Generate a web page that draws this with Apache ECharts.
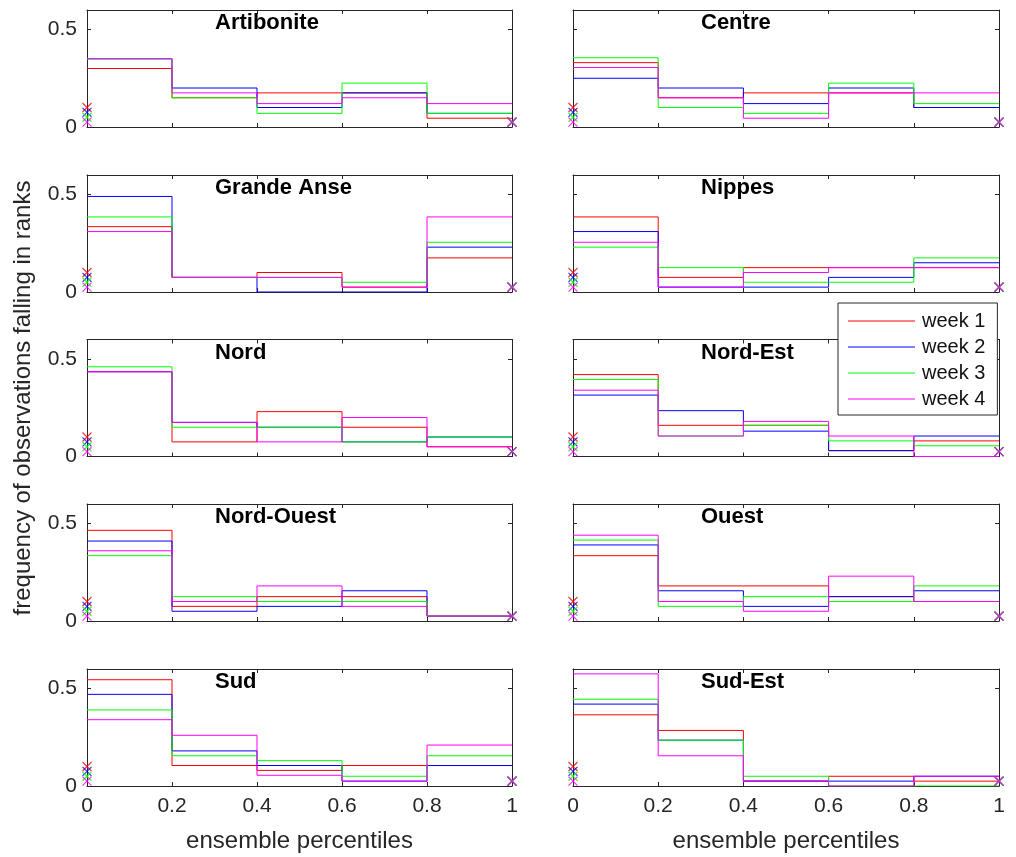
<!DOCTYPE html>
<html>
<head>
<meta charset="utf-8">
<script src="https://cdn.jsdelivr.net/npm/echarts@6/dist/echarts.min.js"></script>
<style>
html,body{margin:0;padding:0;background:#fff;}
#c{width:1016px;height:857px;}
</style>
</head>
<body>
<div id="c"></div>
<script>
// ---- data ----
const binEdges = [0, 0.2, 0.4, 0.6, 0.8, 1];
const xTickLabels = ['0', '0.2', '0.4', '0.6', '0.8', '1'];
const yTicks = [0, 0.5];
const weekNames = ['week 1', 'week 2', 'week 3', 'week 4'];
const weekColors = ['#ff0000', '#0000ff', '#00ff00', '#ff00ff'];
const regionNames = ['Artibonite', 'Centre', 'Grande Anse', 'Nippes', 'Nord', 'Nord-Est', 'Nord-Ouest', 'Ouest', 'Sud', 'Sud-Est'];

// frequency per bin, one row per week (week 1..4)
const artibonite = [[0.30, 0.15, 0.175, 0.175, 0.045], [0.35, 0.20, 0.10, 0.175, 0.07], [0.35, 0.15, 0.07, 0.225, 0.07], [0.35, 0.175, 0.12, 0.15, 0.12]];
const centre     = [[0.33, 0.15, 0.175, 0.175, 0.10], [0.25, 0.20, 0.12, 0.20, 0.10], [0.355, 0.10, 0.07, 0.225, 0.12], [0.305, 0.15, 0.045, 0.175, 0.175]];
const grandeAnse = [[0.335, 0.075, 0.10, 0.025, 0.175], [0.49, 0.075, 0, 0, 0.23], [0.385, 0.075, 0.075, 0.05, 0.255], [0.31, 0.075, 0.075, 0.025, 0.385]];
const nippes     = [[0.385, 0.075, 0.125, 0.125, 0.125], [0.31, 0.025, 0.025, 0.075, 0.15], [0.23, 0.125, 0.05, 0.05, 0.175], [0.255, 0.025, 0.10, 0.125, 0.125]];
const nord       = [[0.435, 0.075, 0.23, 0.15, 0.05], [0.435, 0.175, 0.15, 0.075, 0.10], [0.46, 0.15, 0.15, 0.075, 0.10], [0.435, 0.175, 0.075, 0.20, 0.05]];
const nordEst    = [[0.42, 0.16, 0.16, 0.03, 0.08], [0.315, 0.235, 0.13, 0.03, 0.105], [0.395, 0.105, 0.16, 0.08, 0.055], [0.34, 0.105, 0.18, 0.105, 0]];
const nordOuest  = [[0.465, 0.075, 0.125, 0.125, 0.025], [0.41, 0.05, 0.075, 0.155, 0.025], [0.335, 0.125, 0.10, 0.10, 0.025], [0.36, 0.10, 0.18, 0.075, 0.025]];
const ouest      = [[0.335, 0.18, 0.18, 0.125, 0.10], [0.39, 0.155, 0.075, 0.125, 0.155], [0.415, 0.075, 0.125, 0.10, 0.18], [0.44, 0.10, 0.05, 0.23, 0.10]];
const sud        = [[0.545, 0.105, 0.08, 0.105, 0.105], [0.47, 0.18, 0.105, 0.025, 0.105], [0.39, 0.155, 0.13, 0.05, 0.155], [0.34, 0.26, 0.055, 0.025, 0.21]];
const sudEst     = [[0.365, 0.285, 0.025, 0.05, 0.025], [0.42, 0.235, 0.025, 0.025, 0.05], [0.445, 0.235, 0.05, 0, 0], [0.575, 0.155, 0.025, 0, 0.05]];
const regionData = [artibonite, centre, grandeAnse, nippes, nord, nordEst, nordOuest, ouest, sud, sudEst];

// outlier markers: value at x=0 and at x=1 for each week
const markerLow  = [0.10, 0.075, 0.05, 0.025];
const markerHigh = [0.025, 0.025, 0.025, 0.025];

// ---- layout ----
const FONT = '"Liberation Sans", Arial, Helvetica, sans-serif';
const AX = '#262626';
const colLeft = [87, 573];
const colWidth = [425, 426];
const rowTop = [10, 175, 339.5, 504, 669];
const panelH = 117;
const xSym = 'path://M0,0L10,10M10,0L0,10';

const grids = [], xAxes = [], yAxes = [], series = [], titles = [];
regionNames.forEach((name, i) => {
  const col = i % 2, row = Math.floor(i / 2);
  const bottomRow = row === 4;
  grids.push({left: colLeft[col], top: rowTop[row], width: colWidth[col], height: panelH, containLabel: false});
  const xb = xAxes.length;
  xAxes.push({
    type: 'value', gridIndex: i, position: 'bottom', min: 0, max: 1, interval: 0.2,
    axisLine: {show: true, onZero: false, lineStyle: {color: AX, width: 1}},
    axisTick: {show: true, inside: true, length: 4, lineStyle: {color: AX}},
    axisLabel: {show: bottomRow, color: AX, fontSize: 21, fontFamily: FONT, margin: 10,
      formatter: v => xTickLabels[Math.round(v / 0.2)]},
    splitLine: {show: false},
    name: bottomRow ? 'ensemble percentiles' : '', nameLocation: 'middle', nameGap: 43,
    nameTextStyle: {color: AX, fontSize: 24, fontFamily: FONT}
  });
  xAxes.push({
    type: 'value', gridIndex: i, position: 'top', min: 0, max: 1, interval: 0.2,
    axisLine: {show: true, onZero: false, lineStyle: {color: AX, width: 1}},
    axisTick: {show: true, inside: true, length: 4, lineStyle: {color: AX}},
    axisLabel: {show: false}, splitLine: {show: false}
  });
  const yl = yAxes.length;
  yAxes.push({
    type: 'value', gridIndex: i, position: 'left', min: 0, max: 0.6,
    axisLine: {show: true, onZero: false, lineStyle: {color: AX, width: 1}},
    axisTick: {show: true, inside: true, length: 4, lineStyle: {color: AX}, customValues: yTicks},
    axisLabel: {show: col === 0, color: AX, fontSize: 21, fontFamily: FONT, margin: 10, customValues: yTicks,
      formatter: v => String(v)},
    splitLine: {show: false}
  });
  yAxes.push({
    type: 'value', gridIndex: i, position: 'right', min: 0, max: 0.6,
    axisLine: {show: true, onZero: false, lineStyle: {color: AX, width: 1}},
    axisTick: {show: true, inside: true, length: 4, lineStyle: {color: AX}, customValues: yTicks},
    axisLabel: {show: false}, splitLine: {show: false}
  });
  titles.push({
    text: name, left: colLeft[col] + 128, top: rowTop[row] + 2, padding: 0,
    textStyle: {fontSize: 22, fontWeight: 'bold', color: '#000', fontFamily: FONT}
  });
  regionData[i].forEach((vals, w) => {
    const pts = binEdges.map((x, k) => [x, vals[Math.min(k, vals.length - 1)]]);
    series.push({
      name: weekNames[w], type: 'line', xAxisIndex: xb, yAxisIndex: yl,
      step: 'end', data: pts, symbol: 'none', silent: true, animation: false,
      lineStyle: {color: weekColors[w], width: 1}, itemStyle: {color: weekColors[w]},
      z: 2 + w
    });
  });
  weekNames.forEach((wn, w) => {
    series.push({
      name: 'marker ' + wn, type: 'scatter', xAxisIndex: xb, yAxisIndex: yl,
      data: [[0, markerLow[w]], [1, markerHigh[w]]], clip: false,
      symbol: xSym, symbolSize: 9, animation: false, silent: true,
      itemStyle: {color: 'none', borderColor: weekColors[w], borderWidth: 1.2},
      z: 10 + w
    });
  });
});

const chart = echarts.init(document.getElementById('c'), null, {renderer: 'canvas'});
chart.setOption({
  backgroundColor: '#fff',
  animation: false,
  title: titles,
  grid: grids,
  xAxis: xAxes,
  yAxis: yAxes,
  series: series,
  legend: {
    data: weekNames, orient: 'vertical', left: 838, top: 303,
    backgroundColor: '#fff', borderColor: AX, borderWidth: 1, borderRadius: 0,
    padding: [8, 12, 6, 10], itemGap: 6, itemWidth: 67, itemHeight: 1,
    icon: 'rect',
    textStyle: {fontSize: 20, lineHeight: 20, color: '#111', fontFamily: FONT, padding: [0, 0, 0, 2]},
    selectedMode: false, z: 20
  },
  graphic: [{
    type: 'text', x: 23, y: 398, rotation: Math.PI / 2,
    style: {text: 'frequency of observations falling in ranks', fill: AX, fontSize: 24, fontFamily: FONT,
      align: 'center', verticalAlign: 'middle'},
    z: 30
  }]
});
</script>
</body>
</html>
